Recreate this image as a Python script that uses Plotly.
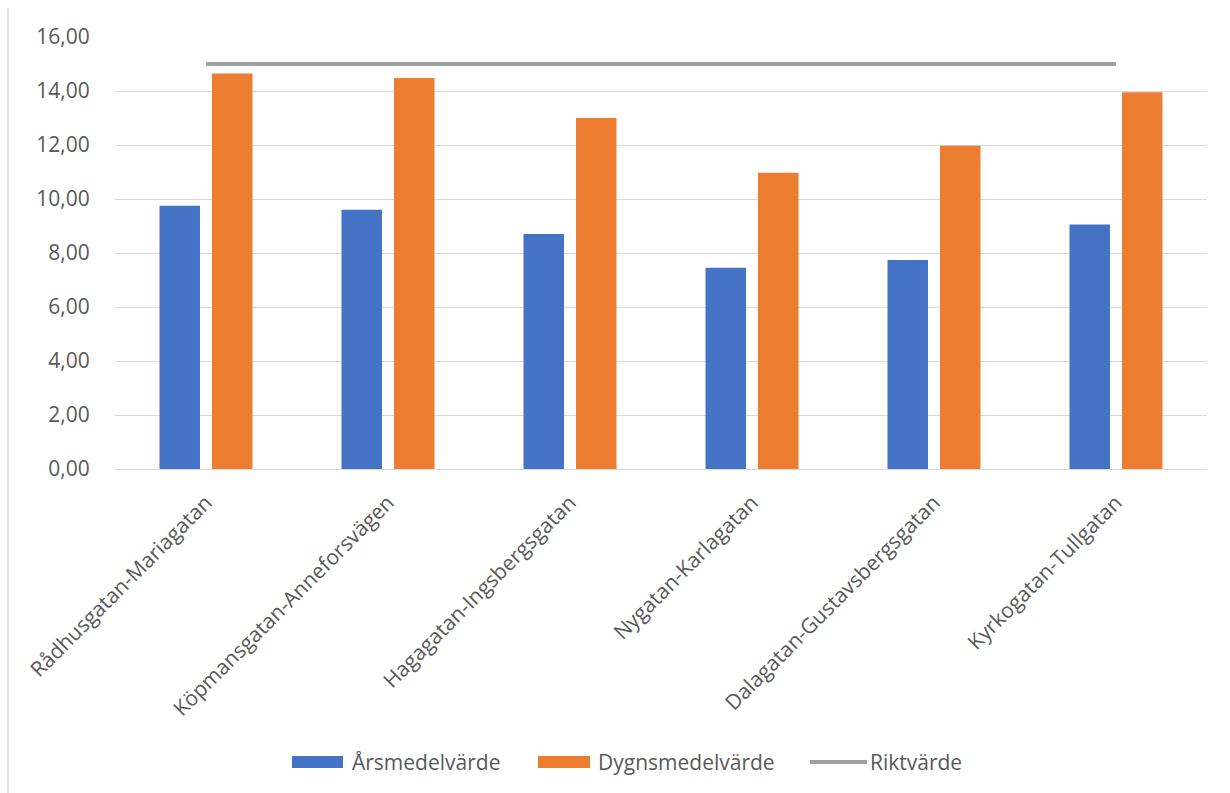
import plotly.graph_objects as go

# Measurement sites
platser = [
    "Rådhusgatan-Mariagatan",
    "Köpmansgatan-Anneforsvägen",
    "Hagagatan-Ingsbergsgatan",
    "Nygatan-Karlagatan",
    "Dalagatan-Gustavsbergsgatan",
    "Kyrkogatan-Tullgatan",
]

# Annual mean and daily mean values
arsmedelvarde = [9.75, 9.60, 8.70, 7.45, 7.74, 9.06]
dygnsmedelvarde = [14.65, 14.48, 13.00, 10.97, 11.97, 13.95]

# Guideline value
riktvarde = [15.0, 15.0, 15.0, 15.0, 15.0, 15.0]

y_ticks = [0, 2, 4, 6, 8, 10, 12, 14, 16]

BLUE = "#4472C4"
ORANGE = "#ED7D31"
GREY = "#A0A0A0"
TEXT = "#595959"
GRID = "#D9D9D9"
FONT = "Open Sans"
FS = 21

W, H = 1230, 793
L, R, T, B = 115, 23, 37, 324
pw, ph = W - L - R, H - T - B


def px(x):
    return (x - L) / pw


def py(y):
    return (H - B - y) / ph


fig = go.Figure()
fig.add_trace(go.Bar(name="Årsmedelvärde", x=platser, y=arsmedelvarde,
                     marker=dict(color=BLUE, line=dict(width=0))))
fig.add_trace(go.Bar(name="Dygnsmedelvärde", x=platser, y=dygnsmedelvarde,
                     marker=dict(color=ORANGE, line=dict(width=0))))
fig.add_trace(go.Scatter(name="Riktvärde", x=platser, y=riktvarde, mode="lines",
                         line=dict(color=GREY, width=4)))

# thin chart-area border on the left
fig.add_shape(type="line", xref="paper", yref="paper",
              x0=px(8), x1=px(8), y0=py(8), y1=py(H),
              line=dict(color="#D0D0D0", width=1))

# legend drawn below the chart: wide swatches like an office chart
legend_y = 762
legend_items = [
    ("rect", BLUE, 292, 343, "Årsmedelvärde", 350),
    ("rect", ORANGE, 538, 590, "Dygnsmedelvärde", 596),
    ("line", GREY, 810, 867, "Riktvärde", 868),
]
for kind, col, x0, x1, label, tx in legend_items:
    if kind == "rect":
        fig.add_shape(type="rect", xref="paper", yref="paper",
                      x0=px(x0), x1=px(x1), y0=py(legend_y + 6), y1=py(legend_y - 6),
                      fillcolor=col, line=dict(width=0))
    else:
        fig.add_shape(type="line", xref="paper", yref="paper",
                      x0=px(x0), x1=px(x1), y0=py(legend_y), y1=py(legend_y),
                      line=dict(color=col, width=4))
    fig.add_annotation(text=label, xref="paper", yref="paper",
                       x=px(tx), y=py(legend_y), xanchor="left", yanchor="middle",
                       showarrow=False, font=dict(family=FONT, size=FS, color=TEXT))

fig.update_layout(
    width=W, height=H,
    margin=dict(l=L, r=R, t=T, b=B, pad=0),
    paper_bgcolor="white", plot_bgcolor="white",
    separators=", ",
    barmode="group", bargap=0.423, bargroupgap=0.229,
    font=dict(family=FONT, size=FS, color=TEXT),
    showlegend=False,
)
fig.update_xaxes(showgrid=False, showline=True, linecolor=GRID, linewidth=1,
                 tickangle=-45, ticks="outside", ticklen=12,
                 tickcolor="rgba(0,0,0,0)",
                 tickfont=dict(family=FONT, size=FS, color=TEXT))
fig.update_yaxes(range=[0, 16], tickvals=y_ticks, tickformat=".2f",
                 showgrid=True, gridcolor=GRID, gridwidth=1, zeroline=False,
                 showline=False, ticks="outside", ticklen=20,
                 tickcolor="rgba(0,0,0,0)",
                 tickfont=dict(family=FONT, size=FS, color=TEXT))

fig.write_html("out.html")
